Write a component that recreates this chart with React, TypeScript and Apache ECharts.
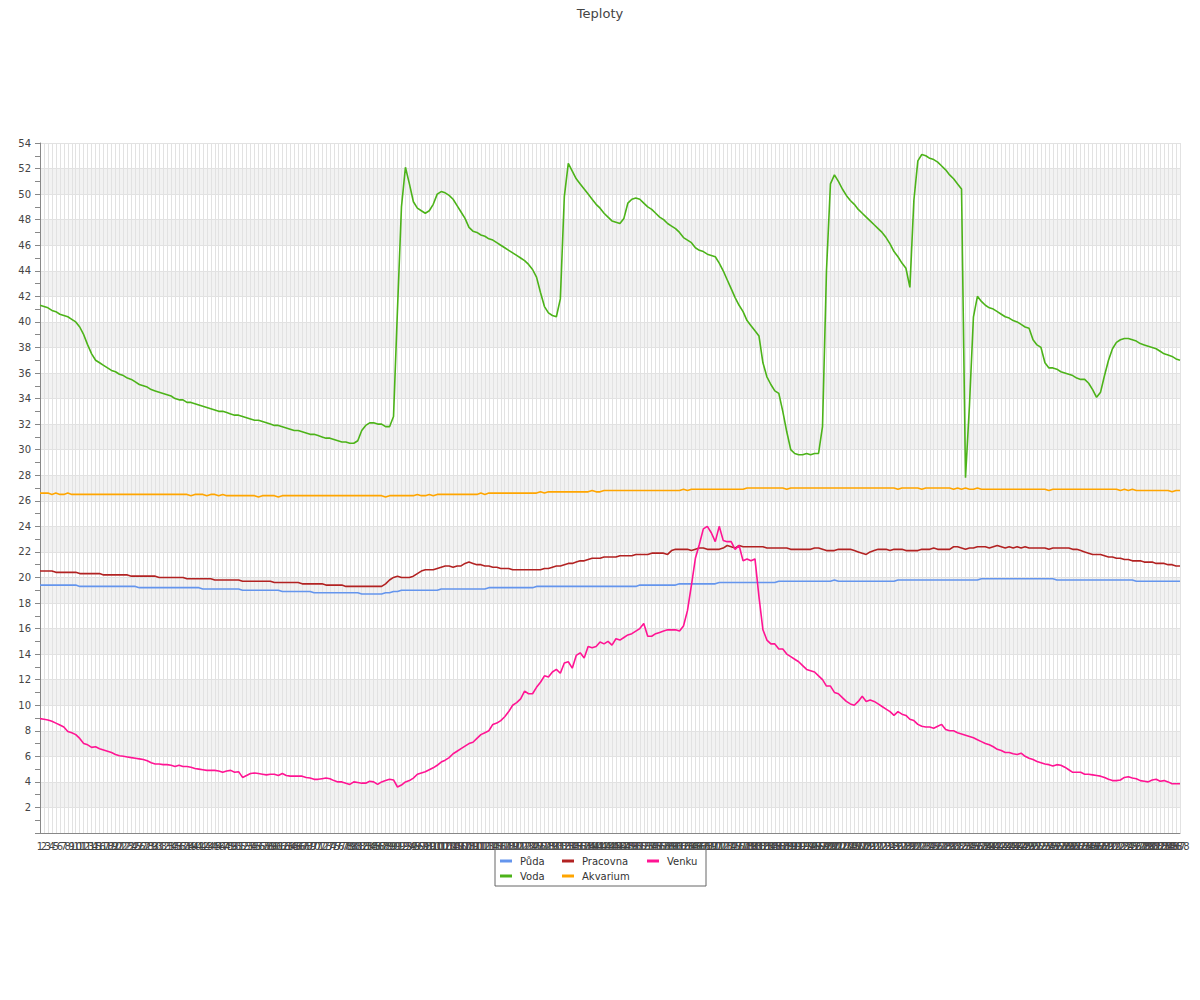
import React, { useEffect, useRef } from "react";
import * as echarts from "echarts";

const categories: string[] = Array.from({ length: 288 }, (_, i) => String(i + 1));

const yTicks = { min: 0, max: 54, step: 2 };

const puda = [
  19.4, 19.4, 19.4, 19.4, 19.4, 19.4, 19.4, 19.4, 19.4, 19.4, 19.3, 19.3,
  19.3, 19.3, 19.3, 19.3, 19.3, 19.3, 19.3, 19.3, 19.3, 19.3, 19.3, 19.3,
  19.3, 19.2, 19.2, 19.2, 19.2, 19.2, 19.2, 19.2, 19.2, 19.2, 19.2, 19.2,
  19.2, 19.2, 19.2, 19.2, 19.2, 19.1, 19.1, 19.1, 19.1, 19.1, 19.1, 19.1,
  19.1, 19.1, 19.1, 19.0, 19.0, 19.0, 19.0, 19.0, 19.0, 19.0, 19.0, 19.0,
  19.0, 18.9, 18.9, 18.9, 18.9, 18.9, 18.9, 18.9, 18.9, 18.8, 18.8, 18.8,
  18.8, 18.8, 18.8, 18.8, 18.8, 18.8, 18.8, 18.8, 18.8, 18.7, 18.7, 18.7,
  18.7, 18.7, 18.7, 18.8, 18.8, 18.9, 18.9, 19.0, 19.0, 19.0, 19.0, 19.0,
  19.0, 19.0, 19.0, 19.0, 19.0, 19.1, 19.1, 19.1, 19.1, 19.1, 19.1, 19.1,
  19.1, 19.1, 19.1, 19.1, 19.1, 19.2, 19.2, 19.2, 19.2, 19.2, 19.2, 19.2,
  19.2, 19.2, 19.2, 19.2, 19.2, 19.3, 19.3, 19.3, 19.3, 19.3, 19.3, 19.3,
  19.3, 19.3, 19.3, 19.3, 19.3, 19.3, 19.3, 19.3, 19.3, 19.3, 19.3, 19.3,
  19.3, 19.3, 19.3, 19.3, 19.3, 19.3, 19.3, 19.4, 19.4, 19.4, 19.4, 19.4,
  19.4, 19.4, 19.4, 19.4, 19.4, 19.5, 19.5, 19.5, 19.5, 19.5, 19.5, 19.5,
  19.5, 19.5, 19.5, 19.6, 19.6, 19.6, 19.6, 19.6, 19.6, 19.6, 19.6, 19.6,
  19.6, 19.6, 19.6, 19.6, 19.6, 19.6, 19.7, 19.7, 19.7, 19.7, 19.7, 19.7,
  19.7, 19.7, 19.7, 19.7, 19.7, 19.7, 19.7, 19.7, 19.8, 19.7, 19.7, 19.7,
  19.7, 19.7, 19.7, 19.7, 19.7, 19.7, 19.7, 19.7, 19.7, 19.7, 19.7, 19.7,
  19.8, 19.8, 19.8, 19.8, 19.8, 19.8, 19.8, 19.8, 19.8, 19.8, 19.8, 19.8,
  19.8, 19.8, 19.8, 19.8, 19.8, 19.8, 19.8, 19.8, 19.8, 19.9, 19.9, 19.9,
  19.9, 19.9, 19.9, 19.9, 19.9, 19.9, 19.9, 19.9, 19.9, 19.9, 19.9, 19.9,
  19.9, 19.9, 19.9, 19.9, 19.8, 19.8, 19.8, 19.8, 19.8, 19.8, 19.8, 19.8,
  19.8, 19.8, 19.8, 19.8, 19.8, 19.8, 19.8, 19.8, 19.8, 19.8, 19.8, 19.8,
  19.7, 19.7, 19.7, 19.7, 19.7, 19.7, 19.7, 19.7, 19.7, 19.7, 19.7, 19.7,
];

const voda = [
  41.3, 41.2, 41.1, 40.9, 40.8, 40.6, 40.5, 40.4, 40.2, 40.0, 39.6, 39.0,
  38.2, 37.5, 37.0, 36.8, 36.6, 36.4, 36.2, 36.1, 35.9, 35.8, 35.6, 35.5,
  35.3, 35.1, 35.0, 34.9, 34.7, 34.6, 34.5, 34.4, 34.3, 34.2, 34.0, 33.9,
  33.9, 33.7, 33.7, 33.6, 33.5, 33.4, 33.3, 33.2, 33.1, 33.0, 33.0, 32.9,
  32.8, 32.7, 32.7, 32.6, 32.5, 32.4, 32.3, 32.3, 32.2, 32.1, 32.0, 31.9,
  31.9, 31.8, 31.7, 31.6, 31.5, 31.5, 31.4, 31.3, 31.2, 31.2, 31.1, 31.0,
  30.9, 30.9, 30.8, 30.7, 30.6, 30.6, 30.5, 30.5, 30.7, 31.5, 31.9, 32.1,
  32.1, 32.0, 32.0, 31.8, 31.8, 32.6, 41.0, 49.0, 52.1, 50.8, 49.4, 48.9,
  48.7, 48.5, 48.7, 49.2, 50.0, 50.2, 50.1, 49.9, 49.6, 49.1, 48.6, 48.1,
  47.4, 47.1, 47.0, 46.8, 46.7, 46.5, 46.4, 46.2, 46.0, 45.8, 45.6, 45.4,
  45.2, 45.0, 44.8, 44.5, 44.1, 43.5, 42.3, 41.2, 40.7, 40.5, 40.4, 41.8,
  49.8, 52.4, 51.8, 51.2, 50.8, 50.4, 50.0, 49.6, 49.2, 48.9, 48.5, 48.2,
  47.9, 47.8, 47.7, 48.1, 49.3, 49.6, 49.7, 49.6, 49.3, 49.0, 48.8, 48.5,
  48.2, 48.0, 47.7, 47.5, 47.3, 47.0, 46.6, 46.4, 46.2, 45.8, 45.6, 45.5,
  45.3, 45.2, 45.1, 44.6, 44.0, 43.3, 42.6, 41.9, 41.3, 40.8, 40.1, 39.7,
  39.3, 38.9, 36.8, 35.7, 35.1, 34.6, 34.4, 33.0, 31.4, 30.0, 29.7, 29.6,
  29.6, 29.7, 29.6, 29.7, 29.7, 31.8, 44.0, 50.8, 51.5, 51.0, 50.4, 49.9,
  49.5, 49.2, 48.8, 48.5, 48.2, 47.9, 47.6, 47.3, 47.0, 46.6, 46.1, 45.5,
  45.1, 44.6, 44.2, 42.7, 49.5, 52.6, 53.1, 53.0, 52.8, 52.7, 52.5, 52.2,
  51.9, 51.5, 51.2, 50.8, 50.4, 27.8, 33.5, 40.4, 42.0, 41.6, 41.3, 41.1,
  41.0, 40.8, 40.6, 40.4, 40.3, 40.1, 40.0, 39.8, 39.6, 39.5, 38.6, 38.2,
  38.0, 36.8, 36.4, 36.4, 36.3, 36.1, 36.0, 35.9, 35.8, 35.6, 35.5, 35.5,
  35.2, 34.7, 34.1, 34.5, 35.8, 37.0, 37.9, 38.4, 38.6, 38.7, 38.7, 38.6,
  38.5, 38.3, 38.2, 38.1, 38.0, 37.9, 37.7, 37.5, 37.4, 37.3, 37.1, 37.0,
];

const pracovna = [
  20.5, 20.5, 20.5, 20.5, 20.4, 20.4, 20.4, 20.4, 20.4, 20.4, 20.3, 20.3,
  20.3, 20.3, 20.3, 20.3, 20.2, 20.2, 20.2, 20.2, 20.2, 20.2, 20.2, 20.1,
  20.1, 20.1, 20.1, 20.1, 20.1, 20.1, 20.0, 20.0, 20.0, 20.0, 20.0, 20.0,
  20.0, 19.9, 19.9, 19.9, 19.9, 19.9, 19.9, 19.9, 19.8, 19.8, 19.8, 19.8,
  19.8, 19.8, 19.8, 19.7, 19.7, 19.7, 19.7, 19.7, 19.7, 19.7, 19.7, 19.6,
  19.6, 19.6, 19.6, 19.6, 19.6, 19.6, 19.5, 19.5, 19.5, 19.5, 19.5, 19.5,
  19.4, 19.4, 19.4, 19.4, 19.4, 19.3, 19.3, 19.3, 19.3, 19.3, 19.3, 19.3,
  19.3, 19.3, 19.3, 19.5, 19.8, 20.0, 20.1, 20.0, 20.0, 20.0, 20.1, 20.3,
  20.5, 20.6, 20.6, 20.6, 20.7, 20.8, 20.9, 20.9, 20.8, 20.9, 20.9, 21.1,
  21.2, 21.1, 21.0, 21.0, 20.9, 20.9, 20.8, 20.8, 20.7, 20.7, 20.7, 20.6,
  20.6, 20.6, 20.6, 20.6, 20.6, 20.6, 20.6, 20.7, 20.7, 20.8, 20.9, 20.9,
  21.0, 21.1, 21.1, 21.2, 21.3, 21.3, 21.4, 21.5, 21.5, 21.5, 21.6, 21.6,
  21.6, 21.6, 21.7, 21.7, 21.7, 21.7, 21.8, 21.8, 21.8, 21.8, 21.9, 21.9,
  21.9, 21.9, 21.8, 22.1, 22.2, 22.2, 22.2, 22.2, 22.1, 22.2, 22.3, 22.3,
  22.2, 22.2, 22.2, 22.2, 22.3, 22.5, 22.4, 22.3, 22.5, 22.4, 22.4, 22.4,
  22.4, 22.4, 22.4, 22.3, 22.3, 22.3, 22.3, 22.3, 22.3, 22.2, 22.2, 22.2,
  22.2, 22.2, 22.2, 22.3, 22.3, 22.2, 22.1, 22.1, 22.1, 22.2, 22.2, 22.2,
  22.2, 22.1, 22.0, 21.9, 21.8, 22.0, 22.1, 22.2, 22.2, 22.2, 22.1, 22.2,
  22.2, 22.2, 22.1, 22.1, 22.1, 22.1, 22.2, 22.2, 22.2, 22.3, 22.2, 22.2,
  22.2, 22.2, 22.4, 22.4, 22.3, 22.2, 22.3, 22.3, 22.4, 22.4, 22.4, 22.3,
  22.4, 22.5, 22.4, 22.3, 22.4, 22.3, 22.4, 22.3, 22.4, 22.3, 22.3, 22.3,
  22.3, 22.3, 22.2, 22.3, 22.3, 22.3, 22.3, 22.3, 22.2, 22.2, 22.1, 22.0,
  21.9, 21.8, 21.8, 21.8, 21.7, 21.6, 21.6, 21.5, 21.5, 21.4, 21.4, 21.3,
  21.3, 21.3, 21.2, 21.2, 21.2, 21.1, 21.1, 21.1, 21.0, 21.0, 20.9, 20.9,
];

const akvarium = [
  26.6, 26.6, 26.6, 26.5, 26.6, 26.5, 26.5, 26.6, 26.5, 26.5, 26.5, 26.5,
  26.5, 26.5, 26.5, 26.5, 26.5, 26.5, 26.5, 26.5, 26.5, 26.5, 26.5, 26.5,
  26.5, 26.5, 26.5, 26.5, 26.5, 26.5, 26.5, 26.5, 26.5, 26.5, 26.5, 26.5,
  26.5, 26.5, 26.4, 26.5, 26.5, 26.5, 26.4, 26.5, 26.5, 26.4, 26.5, 26.4,
  26.4, 26.4, 26.4, 26.4, 26.4, 26.4, 26.4, 26.3, 26.4, 26.4, 26.4, 26.4,
  26.3, 26.4, 26.4, 26.4, 26.4, 26.4, 26.4, 26.4, 26.4, 26.4, 26.4, 26.4,
  26.4, 26.4, 26.4, 26.4, 26.4, 26.4, 26.4, 26.4, 26.4, 26.4, 26.4, 26.4,
  26.4, 26.4, 26.4, 26.3, 26.4, 26.4, 26.4, 26.4, 26.4, 26.4, 26.4, 26.5,
  26.4, 26.4, 26.5, 26.4, 26.5, 26.5, 26.5, 26.5, 26.5, 26.5, 26.5, 26.5,
  26.5, 26.5, 26.5, 26.6, 26.5, 26.6, 26.6, 26.6, 26.6, 26.6, 26.6, 26.6,
  26.6, 26.6, 26.6, 26.6, 26.6, 26.6, 26.7, 26.6, 26.7, 26.7, 26.7, 26.7,
  26.7, 26.7, 26.7, 26.7, 26.7, 26.7, 26.7, 26.8, 26.7, 26.7, 26.8, 26.8,
  26.8, 26.8, 26.8, 26.8, 26.8, 26.8, 26.8, 26.8, 26.8, 26.8, 26.8, 26.8,
  26.8, 26.8, 26.8, 26.8, 26.8, 26.8, 26.9, 26.8, 26.9, 26.9, 26.9, 26.9,
  26.9, 26.9, 26.9, 26.9, 26.9, 26.9, 26.9, 26.9, 26.9, 26.9, 27.0, 27.0,
  27.0, 27.0, 27.0, 27.0, 27.0, 27.0, 27.0, 27.0, 26.9, 27.0, 27.0, 27.0,
  27.0, 27.0, 27.0, 27.0, 27.0, 27.0, 27.0, 27.0, 27.0, 27.0, 27.0, 27.0,
  27.0, 27.0, 27.0, 27.0, 27.0, 27.0, 27.0, 27.0, 27.0, 27.0, 27.0, 27.0,
  26.9, 27.0, 27.0, 27.0, 27.0, 27.0, 26.9, 27.0, 27.0, 27.0, 27.0, 27.0,
  27.0, 27.0, 26.9, 27.0, 26.9, 27.0, 26.9, 26.9, 27.0, 26.9, 26.9, 26.9,
  26.9, 26.9, 26.9, 26.9, 26.9, 26.9, 26.9, 26.9, 26.9, 26.9, 26.9, 26.9,
  26.9, 26.9, 26.8, 26.9, 26.9, 26.9, 26.9, 26.9, 26.9, 26.9, 26.9, 26.9,
  26.9, 26.9, 26.9, 26.9, 26.9, 26.9, 26.9, 26.9, 26.8, 26.9, 26.8, 26.9,
  26.8, 26.8, 26.8, 26.8, 26.8, 26.8, 26.8, 26.8, 26.8, 26.7, 26.8, 26.8,
];

const venku = [
  8.95, 8.9, 8.85, 8.75, 8.6, 8.45, 8.3, 7.95, 7.85, 7.7, 7.4, 7.0,
  6.9, 6.7, 6.75, 6.6, 6.5, 6.4, 6.3, 6.15, 6.05, 6.0, 5.95, 5.9,
  5.85, 5.8, 5.75, 5.65, 5.5, 5.4, 5.4, 5.35, 5.35, 5.3, 5.2, 5.3,
  5.2, 5.2, 5.15, 5.05, 5.0, 4.95, 4.9, 4.9, 4.9, 4.85, 4.75, 4.85,
  4.9, 4.75, 4.8, 4.35, 4.5, 4.65, 4.7, 4.65, 4.6, 4.55, 4.6, 4.6,
  4.5, 4.65, 4.5, 4.45, 4.45, 4.45, 4.45, 4.35, 4.3, 4.2, 4.2, 4.25,
  4.3, 4.25, 4.1, 4.0, 4.0, 3.9, 3.8, 4.0, 3.95, 3.9, 3.9, 4.05,
  4.0, 3.8, 4.0, 4.1, 4.2, 4.15, 3.6, 3.75, 4.0, 4.1, 4.3, 4.6,
  4.7, 4.8, 4.95, 5.1, 5.3, 5.55, 5.7, 5.9, 6.2, 6.4, 6.6, 6.8,
  7.0, 7.1, 7.4, 7.7, 7.85, 8.0, 8.5, 8.6, 8.8, 9.1, 9.5, 10.0,
  10.2, 10.5, 11.1, 10.9, 10.9, 11.4, 11.8, 12.3, 12.2, 12.6, 12.8, 12.5,
  13.3, 13.4, 12.9, 13.9, 14.1, 13.7, 14.6, 14.5, 14.6, 14.95, 14.8, 15.0,
  14.7, 15.2, 15.1, 15.3, 15.5, 15.6, 15.8, 16.0, 16.4, 15.4, 15.4, 15.6,
  15.7, 15.8, 15.9, 15.9, 15.9, 15.8, 16.2, 17.4, 19.4, 21.5, 22.6, 23.8,
  24.0, 23.5, 22.8, 24.0, 22.9, 22.8, 22.8, 22.2, 22.5, 21.3, 21.45, 21.3,
  21.45, 18.5, 15.9, 15.1, 14.8, 14.8, 14.4, 14.4, 14.0, 13.8, 13.6, 13.4,
  13.1, 12.8, 12.7, 12.6, 12.3, 12.0, 11.5, 11.5, 11.0, 10.9, 10.6, 10.3,
  10.1, 10.0, 10.3, 10.7, 10.3, 10.4, 10.3, 10.1, 9.9, 9.7, 9.5, 9.2,
  9.5, 9.3, 9.2, 8.9, 8.8, 8.5, 8.35, 8.3, 8.3, 8.2, 8.35, 8.5,
  8.1, 8.0, 8.0, 7.85, 7.75, 7.65, 7.55, 7.45, 7.3, 7.15, 7.0, 6.9,
  6.75, 6.55, 6.45, 6.3, 6.3, 6.2, 6.15, 6.25, 6.0, 5.85, 5.75, 5.6,
  5.5, 5.4, 5.35, 5.25, 5.35, 5.3, 5.15, 4.95, 4.75, 4.75, 4.75, 4.6,
  4.6, 4.55, 4.5, 4.45, 4.35, 4.2, 4.1, 4.1, 4.15, 4.35, 4.4, 4.3,
  4.25, 4.1, 4.05, 4.0, 4.15, 4.2, 4.05, 4.1, 4.0, 3.85, 3.85, 3.85,
];

const FONT = "DejaVu Sans";

export default function App() {
  const ref = useRef<HTMLDivElement>(null);

  useEffect(() => {
    document.body.style.margin = "0";
    if (!ref.current) return;
    const chart = echarts.init(ref.current, undefined, { renderer: "svg" });

    const mk = (name: string, data: number[], color: string) => ({
      name,
      type: "line",
      data,
      symbol: "none",
      showSymbol: false,
      lineStyle: { width: 1.6, color },
      itemStyle: { color },
      emphasis: { disabled: true },
    });

    chart.setOption({
      animation: false,
      backgroundColor: "#ffffff",
      textStyle: { fontFamily: FONT },
      title: {
        text: "Teploty",
        left: "center",
        top: 2,
        textStyle: { fontSize: 13, fontWeight: "normal", color: "#444", fontFamily: FONT },
      },
      grid: { left: 40, right: 20, top: 143, bottom: 167, containLabel: false },
      legend: {
        left: 495,
        top: 849,
        width: 205,
        padding: [6, 5, 4, 5],
        itemGap: 3,
        itemWidth: 12,
        itemHeight: 3,
        icon: "rect",
        borderColor: "#666",
        borderWidth: 1,
        textStyle: { fontSize: 10, color: "#333", fontFamily: FONT, lineHeight: 12, padding: [0, 0, 0, 3] },
        data: [
          { name: "Půda", textStyle: { width: 39 } },
          { name: "Pracovna", textStyle: { width: 62 } },
          { name: "Venku", textStyle: { width: 34 } },
          { name: "Voda", textStyle: { width: 39 } },
          { name: "Akvarium", textStyle: { width: 60 } },
        ],
      },
      xAxis: {
        type: "category",
        data: categories,
        boundaryGap: false,
        axisLine: { lineStyle: { color: "#888" } },
        axisTick: { show: false },
        axisLabel: { interval: 0, fontSize: 10, color: "#444", margin: 8, fontFamily: FONT },
        splitLine: { show: true, interval: 0, lineStyle: { color: "#e2e2e2", width: 1 } },
      },
      yAxis: {
        type: "value",
        min: yTicks.min,
        max: yTicks.max,
        interval: yTicks.step,
        axisLine: { show: true, lineStyle: { color: "#888" } },
        axisTick: { show: true, length: 5, lineStyle: { color: "#888" } },
        minorTick: { show: true, splitNumber: 2, length: 5, lineStyle: { color: "#888" } },
        axisLabel: {
          fontSize: 10,
          color: "#444",
          margin: 9,
          fontFamily: FONT,
          formatter: (v: number) => (v === 0 ? "" : String(v)),
        },
        splitLine: { show: true, lineStyle: { color: "#e2e2e2" } },
        splitArea: { show: true, areaStyle: { color: ["#ffffff", "#f2f2f2"] } },
      },
      series: [
        mk("Půda", puda, "#6495ed"),
        mk("Voda", voda, "#4cb319"),
        mk("Pracovna", pracovna, "#b22222"),
        mk("Akvarium", akvarium, "#ffa500"),
        mk("Venku", venku, "#ff1493"),
      ],
    });

    return () => chart.dispose();
  }, []);

  return <div ref={ref} style={{ width: 1200, height: 1000 }} />;
}
